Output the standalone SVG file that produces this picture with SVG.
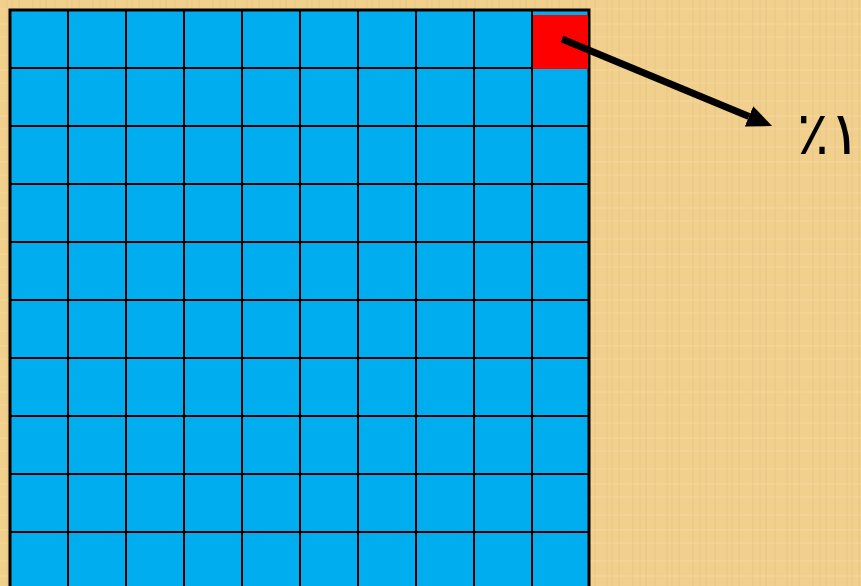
<svg xmlns="http://www.w3.org/2000/svg" width="861" height="586" viewBox="0 0 861 586">
  <defs>
    <style>
      .cell { fill: #00AEEF; }
      .grid-line { stroke: #000; stroke-width: 2; fill: none; }
      .frame { stroke: #000; stroke-width: 3; fill: none; }
      .conn { stroke: #000; stroke-width: 7; fill: none; }
      .label { font-family: "DejaVu Sans", "Noto Sans", sans-serif; font-size: 60px; fill: #000; }
    </style>
    <pattern id="papyrus" width="60" height="46" patternUnits="userSpaceOnUse">
      <rect width="60" height="46" fill="#F1CF8D"/>
      <path d="M7 0V46M19 0V46M33 0V46M46 0V46M55 0V46" stroke="#D9B575" stroke-width="1" opacity="0.35"/>
      <path d="M0 9H60M0 24H60M0 37H60" stroke="#F8DFA8" stroke-width="1.5" opacity="0.45"/>
      <path d="M12 0V46M40 0V46" stroke="#E6C17F" stroke-width="2" opacity="0.3"/>
    </pattern>
    <marker id="arrowhead" markerUnits="userSpaceOnUse" markerWidth="26" markerHeight="23" refX="0" refY="11" orient="auto">
      <path d="M0,0 L25,11 L0,22 z" fill="#000"/>
    </marker>
  </defs>

  <rect id="background" x="0" y="0" width="861" height="586" fill="url(#papyrus)"/>

  <g id="grid">
    <rect class="cell" x="10" y="10" width="580" height="580"/>
    <path class="grid-line" d="M68 10V590M126 10V590M184 10V590M242 10V590M300 10V590M358 10V590M416 10V590M474 10V590M532 10V590"/>
    <path class="grid-line" d="M10 68H590M10 126H590M10 184H590M10 242H590M10 300H590M10 358H590M10 416H590M10 474H590M10 532H590"/>
    <rect class="frame" x="10" y="10" width="579" height="580"/>
  </g>

  <g id="highlight">
    <rect x="533" y="15" width="55" height="54" fill="#FF0000"/>
  </g>

  <g id="connectors">
    <line class="conn" x1="562" y1="39" x2="749" y2="116.4" marker-end="url(#arrowhead)"/>
  </g>

  <g id="label">
    <text class="label" x="829" y="154" text-anchor="middle" direction="rtl">١٪</text>
  </g>
</svg>
